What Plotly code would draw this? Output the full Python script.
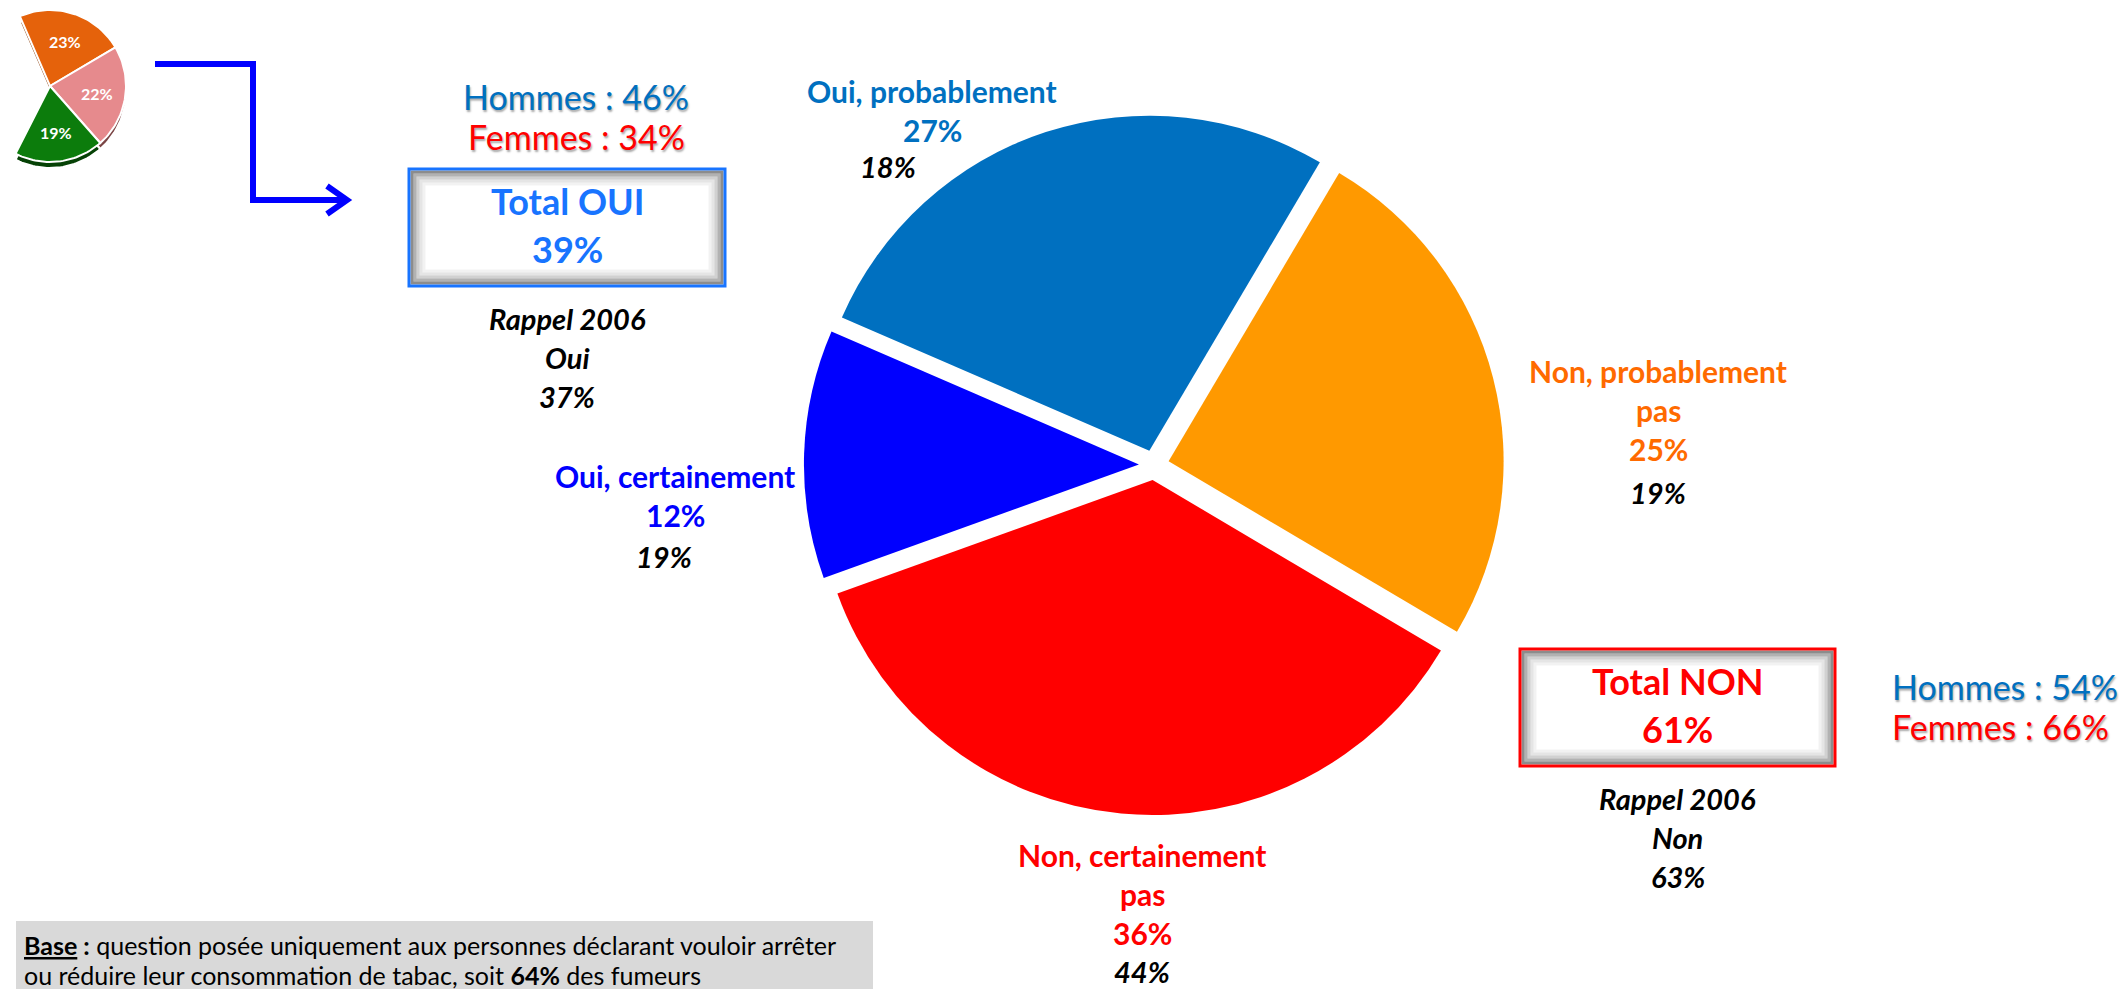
import numpy as np
import plotly.graph_objects as go

W, H = 2119, 989

# answers to the question (share of smokers wanting to stop / cut down)
answers = ["Oui, certainement", "Oui, probablement", "Non, probablement pas", "Non, certainement pas"]
share_now = [12, 27, 25, 36]
share_2006 = [19, 18, 19, 44]

# totals yes / no
total_names = ["Total OUI", "Total NON"]
total_now = [39, 61]
total_2006 = [37, 63]
total_2006_names = ["Oui", "Non"]
hommes = [46, 54]
femmes = [34, 66]

# small pie in the corner
mini_values = [23, 22, 19]
base_pct = 64

FONT = "Lato, 'Open Sans', sans-serif"
slice_colors = ["#0000FF", "#0070C0", "#FF9900", "#FF0000"]
label_colors = ["#0000FF", "#0070C0", "#FF6A00", "#FF0000"]
mini_colors = ["#E5620B", "#E68A8D", "#0C7C0C"]
mini_shade = ["#8A3A05", "#7A4444", "#064206"]
total_colors = ["#1874FF", "#FF0000"]

fig = go.Figure()

# ---- main pie (circle centre 1154,465 px, radius ~335 px, small pull)
pull = 0.045
half = 335 * (1 + pull)
cx, cy = 1154, 465
fig.add_trace(go.Pie(
    labels=answers, values=share_now, sort=False, direction="clockwise",
    rotation=250.2, pull=[pull] * 4, textinfo="none", hoverinfo="label+percent",
    marker=dict(colors=slice_colors, line=dict(width=0)),
    domain=dict(x=[(cx - half) / W, (cx + half) / W], y=[1 - (cy + half) / H, 1 - (cy - half) / H]),
    showlegend=False,
))

# ---- small 3D-ish pie, drawn as wedges on a pixel-scaled axis
mcx, mcy, mr = 50, 86, 76
angle = -23.4
for v, col, shade in zip(mini_values, mini_colors, mini_shade):
    span = v / 100 * 360
    a = np.radians(np.linspace(angle, angle + span, 40))
    for dy, c in [(6, shade), (0, col)]:
        xs = np.concatenate([[mcx], mcx + mr * np.sin(a), [mcx]])
        ys = np.concatenate([[mcy], mcy - mr * np.cos(a), [mcy]]) + dy
        fig.add_trace(go.Scatter(x=xs, y=ys, fill="toself", fillcolor=c, mode="lines",
                                 line=dict(color="white", width=2), hoverinfo="skip", showlegend=False))
    mid = np.radians(angle + span / 2)
    fig.add_annotation(x=mcx + 0.62 * mr * np.sin(mid), y=mcy - 0.62 * mr * np.cos(mid),
                       text="<b>%d%%</b>" % v, showarrow=False,
                       font=dict(family=FONT, size=16, color="white"))
    angle += span

# ---- slice labels
label_pos = [(675, 476), (932, 91), (1658, 371), (1142, 855)]
old_shift = [(-11, 41), (-44, 36), (0, 43), (0, 38)]
line_step = 39
for name, v, old, (lx, ly), (sx, sy), col in zip(answers, share_now, share_2006, label_pos, old_shift, label_colors):
    lines = [name[:-4], "pas"] if name.endswith(" pas") else [name]
    lines.append("%d%%" % v)
    for i, t in enumerate(lines):
        fig.add_annotation(x=lx, y=ly + i * line_step, text="<b>%s</b>" % t, showarrow=False,
                           font=dict(family=FONT, size=30, color=col))
    fig.add_annotation(x=lx + sx, y=ly + (len(lines) - 1) * line_step + sy,
                       text="<b><i>%d%%</i></b>" % old, showarrow=False,
                       font=dict(family=FONT, size=29, color="black"))

# ---- total boxes
boxes = [(409, 169, 725, 286), (1520, 649, 1835, 766)]
hf_pos = [("center", 576, 96), ("left", 1890, 686)]
sh = "1px 2px 2px rgba(0,0,0,0.35)"
for name, tot, old, oldname, (x0, y0, x1, y1), col, h, f, (anc, hx, hy) in zip(
        total_names, total_now, total_2006, total_2006_names, boxes, total_colors, hommes, femmes, hf_pos):
    # inner shadow, fading towards the centre
    for k, op in enumerate([0.45, 0.3, 0.18, 0.1, 0.05]):
        d = 3 + k * 3
        fig.add_shape(type="rect", xref="x", yref="y", x0=x0 + d, y0=y0 + d, x1=x1 - d, y1=y1 - d,
                      line=dict(color="rgba(0,0,0,%.2f)" % op, width=3))
    fig.add_shape(type="rect", xref="x", yref="y", x0=x0, y0=y0, x1=x1, y1=y1,
                  line=dict(color=col, width=3))
    mx = (x0 + x1) / 2
    fig.add_annotation(x=mx, y=y0 + 32, text="<b>%s</b>" % name, showarrow=False,
                       font=dict(family=FONT, size=36, color=col))
    fig.add_annotation(x=mx, y=y0 + 80, text="<b>%d%%</b>" % tot, showarrow=False,
                       font=dict(family=FONT, size=36, color=col))
    for i, t in enumerate(["Rappel 2006", oldname, "%d%%" % old]):
        fig.add_annotation(x=mx, y=y1 + 32 + i * 39, text="<b><i>%s</i></b>" % t, showarrow=False,
                           font=dict(family=FONT, size=29, color="black"))
    fig.add_annotation(x=hx, y=hy, xanchor=anc, text="Hommes : %d%%" % h, showarrow=False,
                       font=dict(family=FONT, size=34, color="#0070C0", shadow=sh))
    fig.add_annotation(x=hx, y=hy + 40, xanchor=anc, text="Femmes : %d%%" % f, showarrow=False,
                       font=dict(family=FONT, size=34, color="#FF0000", shadow=sh))

# ---- blue arrow from the small pie to the "Total OUI" box
fig.add_shape(type="path", xref="x", yref="y", path="M155,64 L253,64 L253,200 L345,200",
              line=dict(color="#0000FF", width=6))
fig.add_shape(type="path", xref="x", yref="y", path="M327,186 L347,200 L327,214",
              line=dict(color="#0000FF", width=6))

# ---- base note
fig.add_shape(type="rect", xref="x", yref="y", x0=16, y0=921, x1=873, y1=995,
              fillcolor="#D9D9D9", line=dict(width=0), layer="below")
fig.add_annotation(x=22, y=945, xanchor="left", align="left", showarrow=False,
                   text="<b><u>Base</u> :</b> question posée uniquement aux personnes déclarant vouloir arrêter",
                   font=dict(family=FONT, size=25, color="black"))
fig.add_annotation(x=22, y=975, xanchor="left", align="left", showarrow=False,
                   text="ou réduire leur consommation de tabac, soit <b>%d%%</b> des fumeurs" % base_pct,
                   font=dict(family=FONT, size=25, color="black"))

fig.update_layout(
    width=W, height=H, margin=dict(l=0, r=0, t=0, b=0),
    paper_bgcolor="white", plot_bgcolor="white",
    xaxis=dict(range=[0, W], visible=False, fixedrange=True, domain=[0, 1]),
    yaxis=dict(range=[H, 0], visible=False, fixedrange=True, domain=[0, 1]),
    font=dict(family=FONT),
)

# the page's default body margin would push the figure 8 px off
fig.write_html("out.html", config={"displayModeBar": False},
               post_script="document.body.style.margin='0';")
